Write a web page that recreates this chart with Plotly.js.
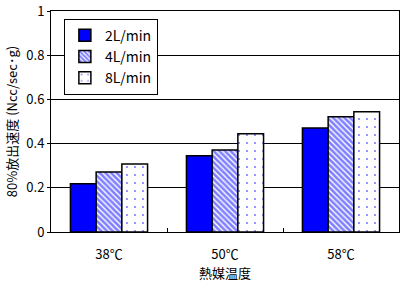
<!DOCTYPE html>
<html><head><meta charset="utf-8">
<script src="https://cdn.plot.ly/plotly-3.0.1.min.js"></script>
<style>body{margin:0;background:#fff}#c{width:401px;height:282px}</style>
</head><body><div id="c"></div>
<script>
const categories = ["38℃", "50℃", "58℃"];
const seriesNames = ["2L/min", "4L/min", "8L/min"];
const s2 = [0.218, 0.345, 0.471];
const s4 = [0.271, 0.371, 0.521];
const s8 = [0.308, 0.445, 0.544];
const yTicks = [0, 0.2, 0.4, 0.6, 0.8, 1];
const yTickText = ["0", "0.2", "0.4", "0.6", "0.8", "1"];

const F = "'Noto Sans CJK JP', 'DejaVu Sans', sans-serif";
const line = {color: "#000", width: 1.5};
const traces = [
  {type: "bar", x: categories, y: s2, name: seriesNames[0],
   marker: {color: "#0000ff", line: line}},
  {type: "bar", x: categories, y: s4, name: seriesNames[1],
   marker: {color: "#ffffff", line: line,
     pattern: {shape: "\\", fgcolor: "#0000ff", bgcolor: "#ffffff", size: 4, solidity: 0.65, fillmode: "overlay"}}},
  {type: "bar", x: categories, y: s8, name: seriesNames[2],
   marker: {color: "#ffffff", line: line,
     pattern: {shape: ".", fgcolor: "#0000ff", bgcolor: "#ffffff", size: 8, solidity: 0.06, fillmode: "overlay"}}}
];
const layout = {
  width: 401, height: 282,
  margin: {l: 51, r: 2, t: 11, b: 50},
  paper_bgcolor: "#fff", plot_bgcolor: "#fff",
  font: {family: F, size: 12, color: "#000"},
  barmode: "group", bargap: 0.335, bargroupgap: 0,
  showlegend: true,
  legend: {x: 0.037, y: 0.965, xanchor: "left", yanchor: "top",
    bgcolor: "#fff", bordercolor: "#000", borderwidth: 1,
    font: {family: F, size: 14}, tracegroupgap: 0, itemwidth: 30},
  xaxis: {
    showline: true, linecolor: "#000", linewidth: 1, mirror: true,
    ticks: "inside", tickson: "boundaries", ticklen: 4, tickcolor: "#000",
    ticklabelstandoff: 10,
    tickfont: {family: F, size: 13}, showgrid: false,
    title: {text: "熱媒温度", font: {family: F, size: 13}, standoff: 4}
  },
  yaxis: {
    range: [0, 1], tickvals: yTicks, ticktext: yTickText,
    showline: true, linecolor: "#000", linewidth: 1, mirror: true,
    showgrid: true, gridcolor: "#000", gridwidth: 1,
    ticks: "outside", ticklen: 3, tickcolor: "#000",
    tickfont: {family: F, size: 13}, zeroline: false,
    title: {text: "80%放出速度 (Ncc/sec･g)", font: {family: F, size: 13}, standoff: 5}
  }
};
Plotly.newPlot("c", traces, layout, {displayModeBar: false, staticPlot: true});
</script></body></html>
